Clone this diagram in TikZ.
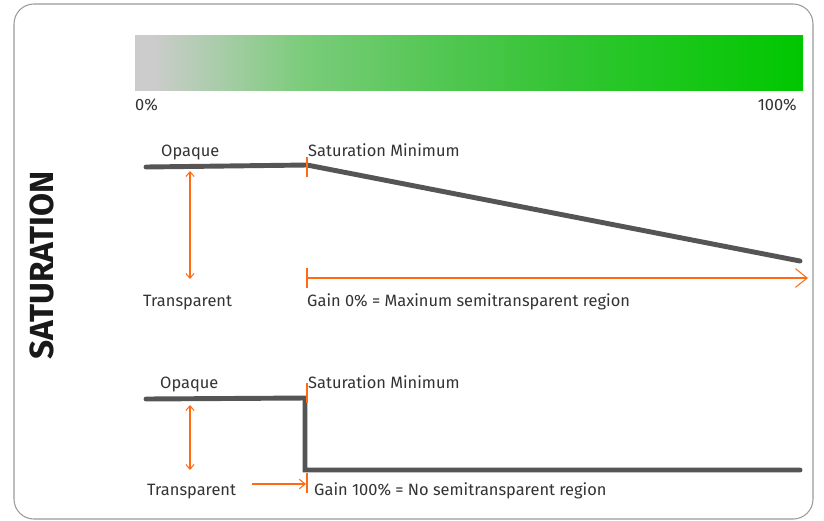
\documentclass[tikz,border=0pt]{standalone}
\usepackage{fontspec}
\setmainfont{Fira Sans}
\usetikzlibrary{arrows.meta, positioning}

\definecolor{linegray}{HTML}{555555}
\definecolor{txtgray}{HTML}{333333}
\definecolor{markorange}{HTML}{FF6A13}
\definecolor{framegray}{HTML}{9A9A9A}

\pgfdeclarehorizontalshading{satbar}{100bp}{rgb(0bp)=(.8,.8,.8); rgb(25bp)=(.8,.8,.8);
  rgb(26.3bp)=(.8,.8,.8); rgb(37.7bp)=(.48,.8,.48); rgb(47.4bp)=(.33,.78,.33);
  rgb(57.2bp)=(.2,.77,.2); rgb(63.8bp)=(.12,.78,.12); rgb(75bp)=(0,.78,0); rgb(100bp)=(0,.78,0)}

\begin{document}
\begin{tikzpicture}[x=0.03cm,y=-0.03cm]
            \edef\sizetext{14pt}
            \tikzstyle{lbl}=[text=txtgray,font=\fontsize{\sizetext}{16pt}\selectfont,inner sep=0pt,anchor=base west]
            \tikzstyle{curve}=[draw=linegray,line width=4.2pt,line cap=round]
            \tikzstyle{tickline}=[draw=markorange,line width=0.9pt]
            \tikzstyle{span}=[draw=markorange,line width=0.9pt]

            \useasboundingbox (0,0) rectangle (824,520);
            \draw [framegray,line width=0.9pt,rounded corners=17pt] (14,4) rectangle (813,519);

            \node (title) [rotate=90,text=black!90,font=\fontsize{28.5pt}{30pt}\selectfont\bfseries] at (42,265.5) {SATURATION};

            \shade [shading=satbar] (135,35) rectangle (803,90);
            \node (zero) [lbl] at (135,110) {0\%};
            \node (full) [lbl,anchor=base east] at (797,110) {100\%};

            % gain 0%
            \coordinate (o1) at (146,167);
            \coordinate (s1) at (307,165);
            \coordinate (e1) at (800,261);
            \draw [curve] (o1) -- (s1) -- (e1);
            \node (opq1) [lbl] at (161,156) {Opaque};
            \node (min1) [lbl] at (308,156) {Saturation Minimum};
            \node (tra1) [lbl] at (143,306) {Transparent};
            \node (gain1) [lbl] at (307,306) {Gain 0\% = Maxinum semitransparent region};
            \coordinate (t1a) at (307,157);
            \coordinate (t1b) at (307,177);
            \draw [tickline] (t1a) -- (t1b);
            \coordinate (u1) at (190,171);
            \coordinate (d1) at (190,279);
            \draw [span,{Straight Barb[length=4pt,width=7pt]}-{Straight Barb[length=4pt,width=7pt]}] (u1) -- (d1);
            \coordinate (g1a) at (307,268);
            \coordinate (g1b) at (307,288);
            \draw [tickline] (g1a) -- (g1b);
            \coordinate (g1) at (307,278);
            \coordinate (g1e) at (808,278);
            \draw [span,-{Straight Barb[length=10pt,width=16pt]}] (g1) -- (g1e);

            % gain 100%
            \coordinate (o2) at (146,399);
            \coordinate (s2) at (305,398);
            \coordinate (s2b) at (305,470);
            \coordinate (e2) at (800,470);
            \draw [curve] (o2) -- (s2) -- (s2b) -- (e2);
            \node (opq2) [lbl] at (160,388) {Opaque};
            \node (min2) [lbl] at (308,388) {Saturation Minimum};
            \node (tra2) [lbl] at (147,495) {Transparent};
            \node (gain2) [lbl] at (314,495) {Gain 100\% = No semitransparent region};
            \coordinate (t2a) at (307,383);
            \coordinate (t2b) at (307,403);
            \draw [tickline] (t2a) -- (t2b);
            \coordinate (t3a) at (307,473);
            \coordinate (t3b) at (307,493);
            \draw [tickline] (t3a) -- (t3b);
            \coordinate (u2) at (190,405);
            \coordinate (d2) at (190,470);
            \draw [span,{Straight Barb[length=4pt,width=7pt]}-{Straight Barb[length=4pt,width=7pt]}] (u2) -- (d2);
            \coordinate (a2) at (252,484);
            \coordinate (a2e) at (306,484);
            \draw [span,-{Straight Barb[length=5pt,width=8pt]}] (a2) -- (a2e);
\end{tikzpicture}
\end{document}
